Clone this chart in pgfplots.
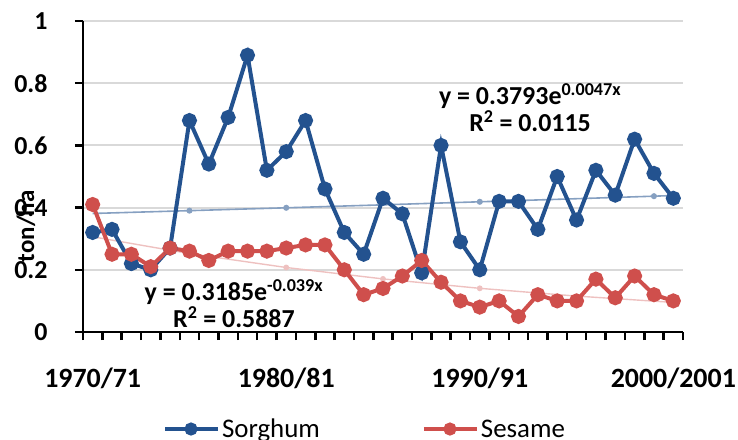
\documentclass[border=0pt]{standalone}
\usepackage{pgfplots}
\usepackage{pgfplotstable}
\pgfplotsset{compat=1.18}
\usepackage{fontspec}
\setmainfont{Carlito}

\definecolor{sorghum}{HTML}{23528F}
\definecolor{sesame}{HTML}{CF4F4C}
\definecolor{gridgray}{HTML}{D9D9D9}

% Yields (ton/ha), seasons 1970/71 (i=0) to 2000/2001 (i=30)
\pgfplotstableread{
i  sorghum sesame
0  0.32 0.41
1  0.33 0.25
2  0.22 0.25
3  0.20 0.21
4  0.27 0.27
5  0.68 0.26
6  0.54 0.23
7  0.69 0.26
8  0.89 0.26
9  0.52 0.26
10 0.58 0.27
11 0.68 0.28
12 0.46 0.28
13 0.32 0.20
14 0.25 0.12
15 0.43 0.14
16 0.38 0.18
17 0.19 0.23
18 0.60 0.16
19 0.29 0.10
20 0.20 0.08
21 0.42 0.10
22 0.42 0.05
23 0.33 0.12
24 0.50 0.10
25 0.36 0.10
26 0.52 0.17
27 0.44 0.11
28 0.62 0.18
29 0.51 0.12
30 0.43 0.10
}\yields

\begin{document}
\begin{tikzpicture}
\begin{axis}[
  at={(0,0)}, anchor=south west,
  scale only axis, width=600bp, height=311bp,
  xmin=-0.5, xmax=30.5, ymin=0, ymax=1,
  clip=false,
  axis x line*=bottom, axis y line*=left,
  axis line style={black, line width=2.8bp},
  % tick marks between seasons, labels centred on every tenth season
  xtick={-0.5,0.5,...,30.5},
  xticklabels={1970/71,,,,,,,,,,1980/81,,,,,,,,,,1990/91,,,,,,,,,,2000/2001,},
  ytick={0,0.2,0.4,0.6,0.8,1},
  yticklabels={0,0.2,0.4,0.6,0.8,1},
  ymajorgrids, grid style={gridgray, line width=2bp},
  tick align=outside, major tick length=8bp,
  tick style={black, line width=2.5bp},
  x tick label style={font=\fontsize{28}{30}\selectfont\bfseries,
    xshift=9.68bp, yshift=-24bp},
  y tick label style={font=\fontsize{26}{28}\selectfont\bfseries, xshift=-24bp},
  ylabel={ton/ha},
  ylabel style={at={(-0.095,0.34)}, anchor=center, rotate=0,
    font=\fontsize{25}{27}\selectfont\bfseries},
  legend columns=2,
  legend style={draw=none, fill=none, at={(0.47,-0.312)}, anchor=center,
    font=\fontsize{27}{29}\selectfont,
    /tikz/every even column/.append style={column sep=100bp}},
  legend image code/.code={\draw[mark repeat=2, mark phase=2, mark size=4.5bp]
    plot coordinates {(0bp,0bp) (26bp,0bp) (53bp,0bp)};},
]
% exponential trend lines
\addplot[forget plot, sorghum!55!white, line width=1.6bp, mark=*, mark size=2.2bp,
  mark indices={2,3,5,7}]
  coordinates {(0,0.3811) (5,0.3902) (10,0.3994) (15,0.4089) (20,0.4187)
               (25,0.4286) (29,0.4367) (30,0.4388)};
\addplot[forget plot, sesame!35!white, line width=1.4bp, mark=*, mark size=2.2bp,
  mark indices={3,4,5}]
  coordinates {(0,0.3063) (5,0.2521) (10,0.2074) (15,0.1707) (20,0.1404)
               (25,0.1155) (30,0.0951)};
% series
\addplot[sorghum, line width=4bp, mark=*, mark size=5.5bp] table[x=i, y=sorghum]{\yields};
\addlegendentry{Sorghum}
\addplot[sesame, line width=4bp, mark=*, mark size=5.5bp] table[x=i, y=sesame]{\yields};
\addlegendentry{Sesame}
% outward tick marks along both axes
\pgfplotsinvokeforeach{-0.5,0.5,...,30.5}{
  \draw[black, line width=2.5bp] (axis cs:#1,0) -- ++(0pt,-8bp);
}
\pgfplotsinvokeforeach{0,0.2,0.4,0.6,0.8,1}{
  \draw[black, line width=2.5bp] (axis cs:-0.5,#1) -- ++(-8bp,0pt);
}
% trend equations
\node[font=\fontsize{26}{27}\selectfont\bfseries, align=center]
  at (axis cs:22.6,0.72) {y = 0.3793e\textsuperscript{0.0047x}\\R\textsuperscript{2} = 0.0115};
\node[font=\fontsize{26}{27}\selectfont\bfseries, align=center]
  at (axis cs:7.3,0.09) {y = 0.3185e\textsuperscript{-0.039x}\\R\textsuperscript{2} = 0.5887};
\end{axis}
\pgfresetboundingbox
\path[use as bounding box] (-83bp,-108bp) rectangle (655bp,332bp);
\end{tikzpicture}
\end{document}
